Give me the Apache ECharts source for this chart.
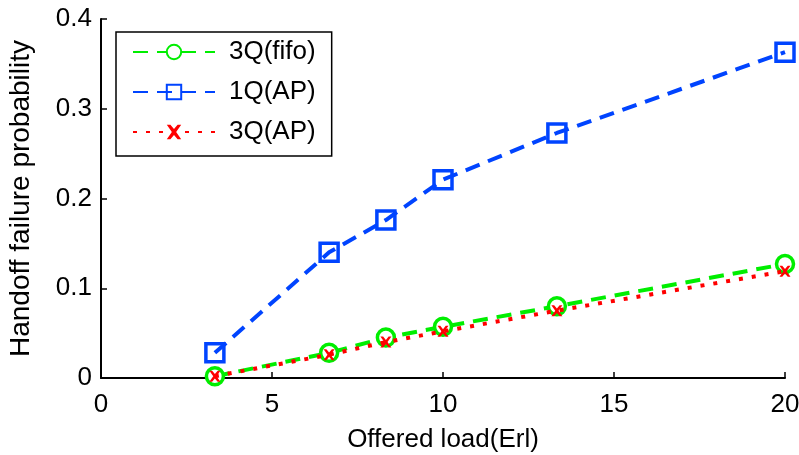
<!DOCTYPE html>
<html>
<head>
<meta charset="utf-8">
<script src="https://cdn.jsdelivr.net/npm/echarts@6/dist/echarts.min.js"></script>
<style>
  html, body { margin: 0; padding: 0; background: #fff; }
  #chart { width: 799px; height: 455px; }
</style>
</head>
<body>
<div id="chart"></div>
<script>
// offered load (Erl)
var loads = [3.33, 6.67, 8.33, 10, 13.33, 20];
var fifo3Q = [0.002, 0.028, 0.045, 0.057, 0.080, 0.127];
var ap1Q = [0.028, 0.140, 0.176, 0.221, 0.273, 0.363];
var ap3Q = [0.002, 0.026, 0.040, 0.052, 0.075, 0.119];

var xPath = 'path://M0,0 L2.5,0 L5,3 L7.5,0 L10,0 L6.5,5 L10,10 L7.5,10 L5,7 L2.5,10 L0,10 L3.5,5 Z';

function pairs(ys) {
  return loads.map(function (x, i) { return [x, ys[i]]; });
}

var chart = echarts.init(document.getElementById('chart'));
var font = 'Liberation Sans, Arial, sans-serif';

var option = {
  animation: false,
  textStyle: { fontFamily: font },
  grid: { left: 101, right: 14, top: 19, bottom: 77, outerBoundsMode: 'none' },
  legend: {
    left: 116,
    top: 32,
    orient: 'vertical',
    itemWidth: 82,
    itemHeight: 18,
    itemGap: 14,
    padding: [7, 16, 11, 16],
    borderColor: '#000',
    borderWidth: 1.5,
    textStyle: { fontSize: 26, lineHeight: 26, color: '#000', fontFamily: font, padding: [0, 0, 0, 9] },
    data: ['3Q(fifo)', '1Q(AP)', '3Q(AP)']
  },
  xAxis: {
    type: 'value',
    min: 0, max: 20, interval: 5,
    name: 'Offered load(Erl)',
    nameLocation: 'middle',
    nameGap: 49,
    nameTextStyle: { fontSize: 26, color: '#000' },
    axisLine: { lineStyle: { color: '#000', width: 2 } },
    axisTick: { inside: true, length: 6, lineStyle: { color: '#000', width: 1.5 } },
    axisLabel: { fontSize: 26, color: '#000', margin: 14 },
    splitLine: { show: false }
  },
  yAxis: {
    type: 'value',
    min: 0, max: 0.4, interval: 0.1,
    name: 'Handoff failure probability',
    nameLocation: 'middle',
    nameGap: 66,
    nameTextStyle: { fontSize: 28, color: '#000' },
    axisLine: { show: true, lineStyle: { color: '#000', width: 2 } },
    axisTick: { show: true, inside: true, length: 6, lineStyle: { color: '#000', width: 1.5 } },
    axisLabel: { fontSize: 26, color: '#000', margin: 9 },
    splitLine: { show: false }
  },
  series: [
    {
      name: '3Q(fifo)',
      type: 'line',
      data: pairs(fifo3Q),
      symbol: 'circle',
      symbolSize: 17,
      z: 2,
      lineStyle: { color: '#00ee00', width: 4, type: [15, 9] },
      itemStyle: { color: '#fff', borderColor: '#00ee00', borderWidth: 3.5 }
    },
    {
      name: '1Q(AP)',
      type: 'line',
      data: pairs(ap1Q),
      symbol: 'rect',
      symbolSize: 18,
      z: 3,
      lineStyle: { color: '#0044ff', width: 4, type: [15, 9] },
      itemStyle: { color: 'rgba(255,255,255,0)', borderColor: '#0044ff', borderWidth: 3.5 }
    },
    {
      name: '3Q(AP)',
      type: 'line',
      data: pairs(ap3Q),
      symbol: xPath,
      symbolSize: 11,
      z: 4,
      lineStyle: { color: '#ff0000', width: 4, type: [4, 9] },
      itemStyle: { color: '#ff0000' }
    }
  ]
};

chart.setOption(option);
</script>
</body>
</html>
